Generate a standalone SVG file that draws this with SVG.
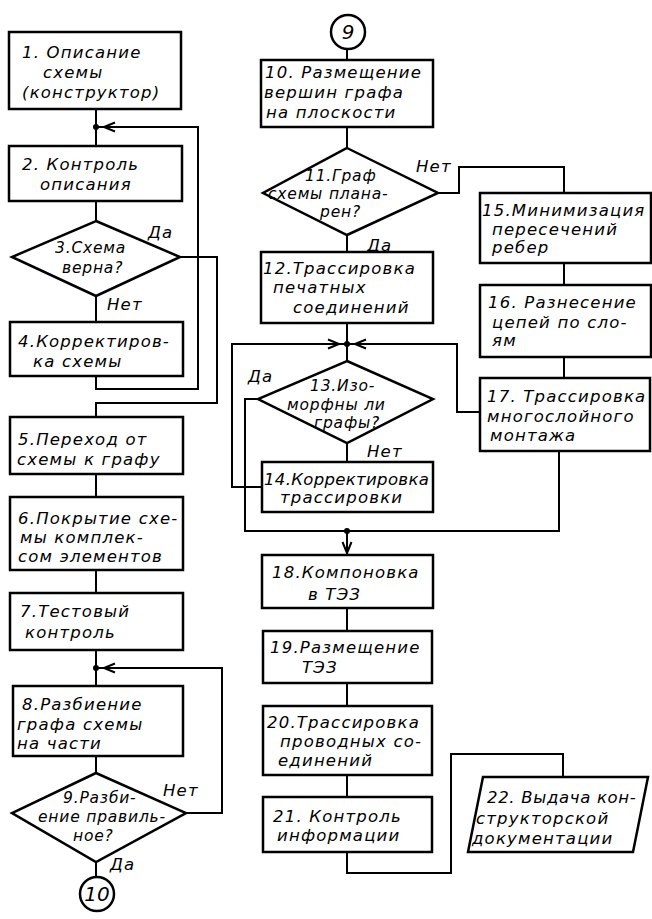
<svg xmlns="http://www.w3.org/2000/svg" width="652" height="919" viewBox="0 0 652 919">
<style>
.box{fill:#fff;stroke:#000;stroke-width:2.5;stroke-linejoin:miter}
.c{fill:none;stroke:#000;stroke-width:2}
.dot{fill:#000}
text{font-family:"DejaVu Sans","Liberation Sans",sans-serif;font-style:oblique;font-size:16.5px;letter-spacing:1.2px;fill:#000}
.d{font-size:15.5px;letter-spacing:0.8px}
.num{font-size:20px;letter-spacing:0;text-anchor:middle}
</style>
<defs>
<marker id="arr" markerUnits="userSpaceOnUse" markerWidth="12" markerHeight="10" refX="8" refY="0" orient="auto" overflow="visible">
<path d="M-11,-4.5 L0,0 L-11,4.5" fill="none" stroke="#000" stroke-width="2"/>
</marker>
<marker id="arrEnd" markerUnits="userSpaceOnUse" markerWidth="12" markerHeight="10" refX="1" refY="0" orient="auto" overflow="visible">
<path d="M-11,-4.5 L0,0 L-11,4.5" fill="none" stroke="#000" stroke-width="2"/>
</marker>
</defs>
<rect width="652" height="919" fill="#fff"/>

<g id="connectors">
<polyline class="c" points="96,109 96,146"/>
<polyline class="c" points="96,376 96,389 198,389 198,127 96,127" marker-end="url(#arr)"/>
<polyline class="c" points="96,201 96,221"/>
<polyline class="c" points="96,296 96,322"/>
<polyline class="c" points="180,257 217,257 217,403 96,403 96,417"/>
<polyline class="c" points="96,474 96,497"/>
<polyline class="c" points="96,570 96,593"/>
<polyline class="c" points="96,650 96,686"/>
<polyline class="c" points="96,756 96,773"/>
<polyline class="c" points="186,813 222,813 222,668 96,668" marker-end="url(#arr)"/>
<polyline class="c" points="96,862 96,877"/>
<circle class="dot" cx="96" cy="127" r="3"/>
<circle class="dot" cx="96" cy="668" r="3"/>

<polyline class="c" points="347,49 347,60"/>
<polyline class="c" points="347,127 347,148"/>
<polyline class="c" points="347,235 347,252"/>
<polyline class="c" points="347,323 347,361"/>
<polyline class="c" points="347,443 347,462"/>
<polyline class="c" points="262,487 232,487 232,344 347,344" marker-end="url(#arr)"/>
<polyline class="c" points="480,412 457,412 457,344 347,344" marker-end="url(#arr)"/>
<polyline class="c" points="258,399 245,399 245,531 347,531"/>
<polyline class="c" points="559,451 559,531 347,531"/>
<polyline class="c" points="347,531 347,554" marker-end="url(#arrEnd)"/>
<polyline class="c" points="438,193 459,193 459,167 564,167 564,193"/>
<polyline class="c" points="564,263 564,285"/>
<polyline class="c" points="564,357 564,378"/>
<polyline class="c" points="347,608 347,631"/>
<polyline class="c" points="347,683 347,706"/>
<polyline class="c" points="347,775 347,797"/>
<polyline class="c" points="347,852 347,873 451,873 451,754 563,754 563,777"/>
<circle class="dot" cx="347" cy="344" r="3"/>
<circle class="dot" cx="347" cy="531" r="3"/>

<text x="148" y="238">Да</text>
<text x="107" y="310">Нет</text>
<text x="163" y="796">Нет</text>
<text x="110" y="870">Да</text>
<text x="416" y="172">Нет</text>
<text x="367" y="251">Да</text>
<text x="248" y="382">Да</text>
<text x="367" y="457">Нет</text>
</g>

<g id="n1"><rect class="box" x="9" y="32" width="172" height="77"/>
<text x="22" y="58">1. Описание</text><text x="43" y="78">схемы</text><text x="22" y="98">(конструктор)</text></g>
<g id="n2"><rect class="box" x="9" y="146" width="173" height="55"/>
<text x="22" y="170">2. Контроль</text><text x="40" y="190">описания</text></g>
<g id="n3"><polygon class="box" points="96,221 180,257 96,296 12,257"/>
<text class="d" x="55" y="253">3.Схема</text><text class="d" x="62" y="273">верна?</text></g>
<g id="n4"><rect class="box" x="10" y="322" width="173" height="54"/>
<text x="18" y="347">4.Корректиров-</text><text x="33" y="367">ка  схемы</text></g>
<g id="n5"><rect class="box" x="10" y="417" width="173" height="57"/>
<text x="18" y="445">5.Переход  от</text><text x="17" y="465">схемы к графу</text></g>
<g id="n6"><rect class="box" x="10" y="497" width="173" height="73"/>
<text x="18" y="524">6.Покрытие схе-</text><text x="20" y="543">мы  комплек-</text><text x="18" y="562">сом элементов</text></g>
<g id="n7"><rect class="box" x="10" y="593" width="173" height="57"/>
<text x="20" y="617">7.Тестовый</text><text x="25" y="638">контроль</text></g>
<g id="n8"><rect class="box" x="13" y="686" width="170" height="70"/>
<text x="22" y="710">8.Разбиение</text><text x="17" y="730">графа схемы</text><text x="17" y="749">на части</text></g>
<g id="n9"><polygon class="box" points="96,773 186,813 96,862 12,813"/>
<text class="d" x="63" y="803">9.Разби-</text><text class="d" x="38" y="822">ение правиль-</text><text class="d" x="73" y="841">ное?</text></g>
<g id="c10"><circle class="box" cx="97" cy="894" r="17"/>
<text class="num" x="97" y="901">10</text></g>

<g id="c9"><circle class="box" cx="348" cy="32" r="17"/>
<text class="num" x="348" y="39">9</text></g>
<g id="n10"><rect class="box" x="261" y="60" width="172" height="67"/>
<text x="265" y="78">10. Размещение</text><text x="264" y="98">вершин графа</text><text x="266" y="118">на плоскости</text></g>
<g id="n11"><polygon class="box" points="347,148 438,193 347,235 263,193"/>
<text class="d" x="305" y="181">11.Граф</text><text class="d" x="268" y="199">схемы плана-</text><text class="d" x="320" y="217">рен?</text></g>
<g id="n12"><rect class="box" x="261" y="252" width="172" height="71"/>
<text x="263" y="274">12.Трассировка</text><text x="273" y="293">печатных</text><text x="293" y="313">соединений</text></g>
<g id="n13"><polygon class="box" points="347,361 433,399 347,443 258,399"/>
<text class="d" x="310" y="391">13.Изо-</text><text class="d" x="287" y="410">морфны ли</text><text class="d" x="314" y="428">графы?</text></g>
<g id="n14"><rect class="box" x="262" y="462" width="171" height="50"/>
<text x="264" y="485" textLength="166" lengthAdjust="spacing">14.Корректировка</text><text x="280" y="503">трассировки</text></g>
<g id="n15"><rect class="box" x="480" y="193" width="171" height="70"/>
<text x="482" y="216">15.Минимизация</text><text x="492" y="235">пересечений</text><text x="492" y="253">ребер</text></g>
<g id="n16"><rect class="box" x="480" y="285" width="171" height="72"/>
<text x="488" y="308">16. Разнесение</text><text x="492" y="328">цепей  по  сло-</text><text x="492" y="346">ям</text></g>
<g id="n17"><rect class="box" x="480" y="378" width="170" height="73"/>
<text x="487" y="402">17. Трассировка</text><text x="487" y="422">многослойного</text><text x="490" y="441">монтажа</text></g>
<g id="n18"><rect class="box" x="262" y="555" width="171" height="53"/>
<text x="272" y="578">18.Компоновка</text><text x="308" y="600">в ТЭЗ</text></g>
<g id="n19"><rect class="box" x="263" y="631" width="169" height="52"/>
<text x="270" y="653">19.Размещение</text><text x="302" y="673">ТЭЗ</text></g>
<g id="n20"><rect class="box" x="263" y="706" width="169" height="69"/>
<text x="267" y="728">20.Трассировка</text><text x="280" y="747">проводных со-</text><text x="278" y="766">единений</text></g>
<g id="n21"><rect class="box" x="263" y="797" width="169" height="55"/>
<text x="273" y="822">21. Контроль</text><text x="277" y="841">информации</text></g>
<g id="n22"><polygon class="box" points="483,777 648,777 633,852 468,852"/>
<text x="487" y="803" textLength="150" lengthAdjust="spacing">22. Выдача кон-</text><text x="476" y="824">структорской</text><text x="472" y="844">документации</text></g>
</svg>
